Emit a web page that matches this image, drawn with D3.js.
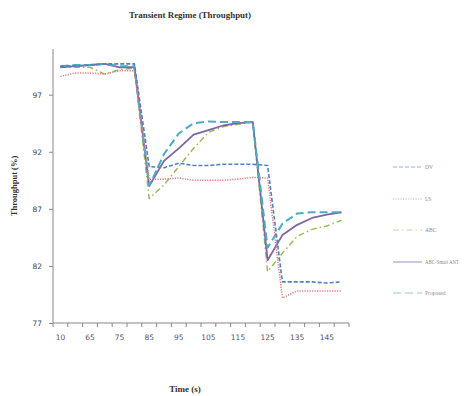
<!DOCTYPE html>
<html>
<head>
<meta charset="utf-8">
<script src="https://cdn.jsdelivr.net/npm/d3@7"></script>
<style>
  body { margin: 0; background: #fff; }
  svg { display: block; }
</style>
</head>
<body>
<script>
// categories on the time axis (only every second one carries a label)
var times = ["10", "60", "65", "70", "75", "80", "85", "90", "95", "100",
             "105", "110", "115", "120", "125", "130", "135", "140", "145", "150"]
var tickLabels = ["10", "65", "75", "85", "95", "105", "115", "125", "135", "145"]
var yTicks = [77, 82, 87, 92, 97]

var dv       = [99.5, 99.5, 99.6, 99.7, 99.7, 99.7, 90.7, 90.6, 91.0, 90.8,
                90.8, 90.9, 90.9, 90.9, 90.8, 80.6, 80.6, 80.6, 80.5, 80.6]
var ls       = [98.6, 98.9, 98.9, 98.8, 99.1, 99.1, 89.6, 89.6, 89.7, 89.5,
                89.5, 89.5, 89.6, 89.75, 89.7, 79.2, 79.8, 79.8, 79.8, 79.8]
var abc      = [99.4, 99.4, 99.4, 98.8, 99.2, 99.3, 87.9, 89.1, 90.7, 92.3,
                93.7, 94.2, 94.4, 94.6, 81.5, 83.1, 84.6, 85.2, 85.5, 86.0]
var smartAnt = [99.4, 99.5, 99.6, 99.7, 99.4, 99.4, 89.0, 91.2, 92.3, 93.5,
                93.9, 94.3, 94.5, 94.6, 82.5, 84.7, 85.6, 86.2, 86.5, 86.7]
var proposed = [99.5, 99.6, 99.6, 99.7, 99.5, 99.5, 89.0, 91.8, 93.6, 94.5,
                94.65, 94.6, 94.6, 94.6, 83.6, 85.7, 86.6, 86.7, 86.7, 86.7]

var seriesNames = ["DV", "LS", "ABC", "ABC-Smart ANT", "Proposed"]
var seriesData = [dv, ls, abc, smartAnt, proposed]

var styles = [
  {color: "#4f81bd", dash: "4,2",       width: 1.6},
  {color: "#e07b7b", dash: "1.2,1.3",   width: 1.5},
  {color: "#9bbb59", dash: "6,3,1.5,3", width: 1.5},
  {color: "#8064a2", dash: null,        width: 1.8},
  {color: "#4bacc6", dash: "8,4",       width: 2}
]

var W = 465, H = 396

var svg = d3.select("body").append("svg")
  .attr("width", W)
  .attr("height", H)

var x = d3.scaleBand().domain(times).range([53, 349]).padding(0)
var y = d3.scaleLinear().domain([77, 101]).range([323, 49])

// title
svg.append("text")
  .attr("x", 190).attr("y", 18)
  .attr("text-anchor", "middle")
  .attr("font-family", "Liberation Serif")
  .attr("font-weight", "bold")
  .attr("font-size", 9)
  .attr("fill", "#333")
  .attr("textLength", 122)
  .attr("lengthAdjust", "spacingAndGlyphs")
  .text("Transient Regime (Throughput)")

// y axis
var yAxis = d3.axisLeft(y).tickValues(yTicks).tickSize(4).tickPadding(7)
var gy = svg.append("g").attr("transform", "translate(53,0)").call(yAxis)
gy.select(".domain").remove()
gy.append("line").attr("x1", 0).attr("x2", 0).attr("y1", 49).attr("y2", 323)
  .attr("stroke", "#888")
gy.selectAll(".tick line").attr("stroke", "#888")
gy.selectAll(".tick text")
  .attr("font-family", "DejaVu Sans")
  .attr("font-size", 7.5)
  .attr("fill", "#444")

// x axis: labels at every second category, tick marks at category borders
var xAxis = d3.axisBottom(x)
  .tickValues(times.filter(function(d) { return tickLabels.indexOf(d) >= 0 }))
  .tickSize(0).tickPadding(12)
var gx = svg.append("g").attr("transform", "translate(0,323)").call(xAxis)
gx.select(".domain").remove()
gx.selectAll(".tick text")
  .attr("font-family", "DejaVu Sans")
  .attr("font-size", 7.5)
  .attr("fill", "#5a5470")

var borders = times.map(function(d) { return x(d) }).concat([x.range()[1]])
gx.selectAll("line.border")
  .data(borders)
  .enter()
  .append("line")
  .attr("class", "border")
  .attr("x1", function(d) { return d })
  .attr("x2", function(d) { return d })
  .attr("y1", 0)
  .attr("y2", 4)
  .attr("stroke", "#888")
gx.append("line").attr("x1", 53).attr("x2", 349).attr("y1", 0).attr("y2", 0)
  .attr("stroke", "#888")

// axis titles
svg.append("text")
  .attr("x", 185).attr("y", 392)
  .attr("text-anchor", "middle")
  .attr("font-family", "Liberation Serif")
  .attr("font-weight", "bold")
  .attr("font-size", 9)
  .attr("fill", "#333")
  .text("Time (s)")

svg.append("text")
  .attr("transform", "translate(17,186) rotate(-90)")
  .attr("text-anchor", "middle")
  .attr("font-family", "Liberation Serif")
  .attr("font-weight", "bold")
  .attr("font-size", 8.5)
  .attr("fill", "#333")
  .text("Throughput (%)")

// lines
var line = d3.line()
  .x(function(d, i) { return x(times[i]) + x.bandwidth() / 2 })
  .y(function(d) { return y(d) })

// draw DV, LS last so they sit on top like the original
var order = [2, 3, 4, 0, 1]
order.forEach(function(k) {
  svg.append("path")
    .datum(seriesData[k])
    .attr("d", line)
    .attr("fill", "none")
    .attr("stroke", styles[k].color)
    .attr("stroke-width", styles[k].width)
    .attr("stroke-dasharray", styles[k].dash)
    .attr("stroke-linejoin", "round")
})

// legend
var legendY = [167, 199, 230, 262, 293]
var legend = svg.append("g").attr("opacity", 0.6)
seriesNames.forEach(function(name, k) {
  legend.append("line")
    .attr("x1", 393).attr("x2", 422)
    .attr("y1", legendY[k]).attr("y2", legendY[k])
    .attr("stroke", styles[k].color)
    .attr("stroke-width", 1.2)
    .attr("stroke-dasharray", styles[k].dash)
  var t = legend.append("text")
    .attr("x", 425).attr("y", legendY[k] + 2)
    .attr("font-family", "Liberation Serif")
    .attr("font-size", 5.5)
    .attr("fill", "#333")
    .text(name)
  if (name.length > 10) {
    t.attr("textLength", 34).attr("lengthAdjust", "spacingAndGlyphs")
  }
})
</script>
</body>
</html>
